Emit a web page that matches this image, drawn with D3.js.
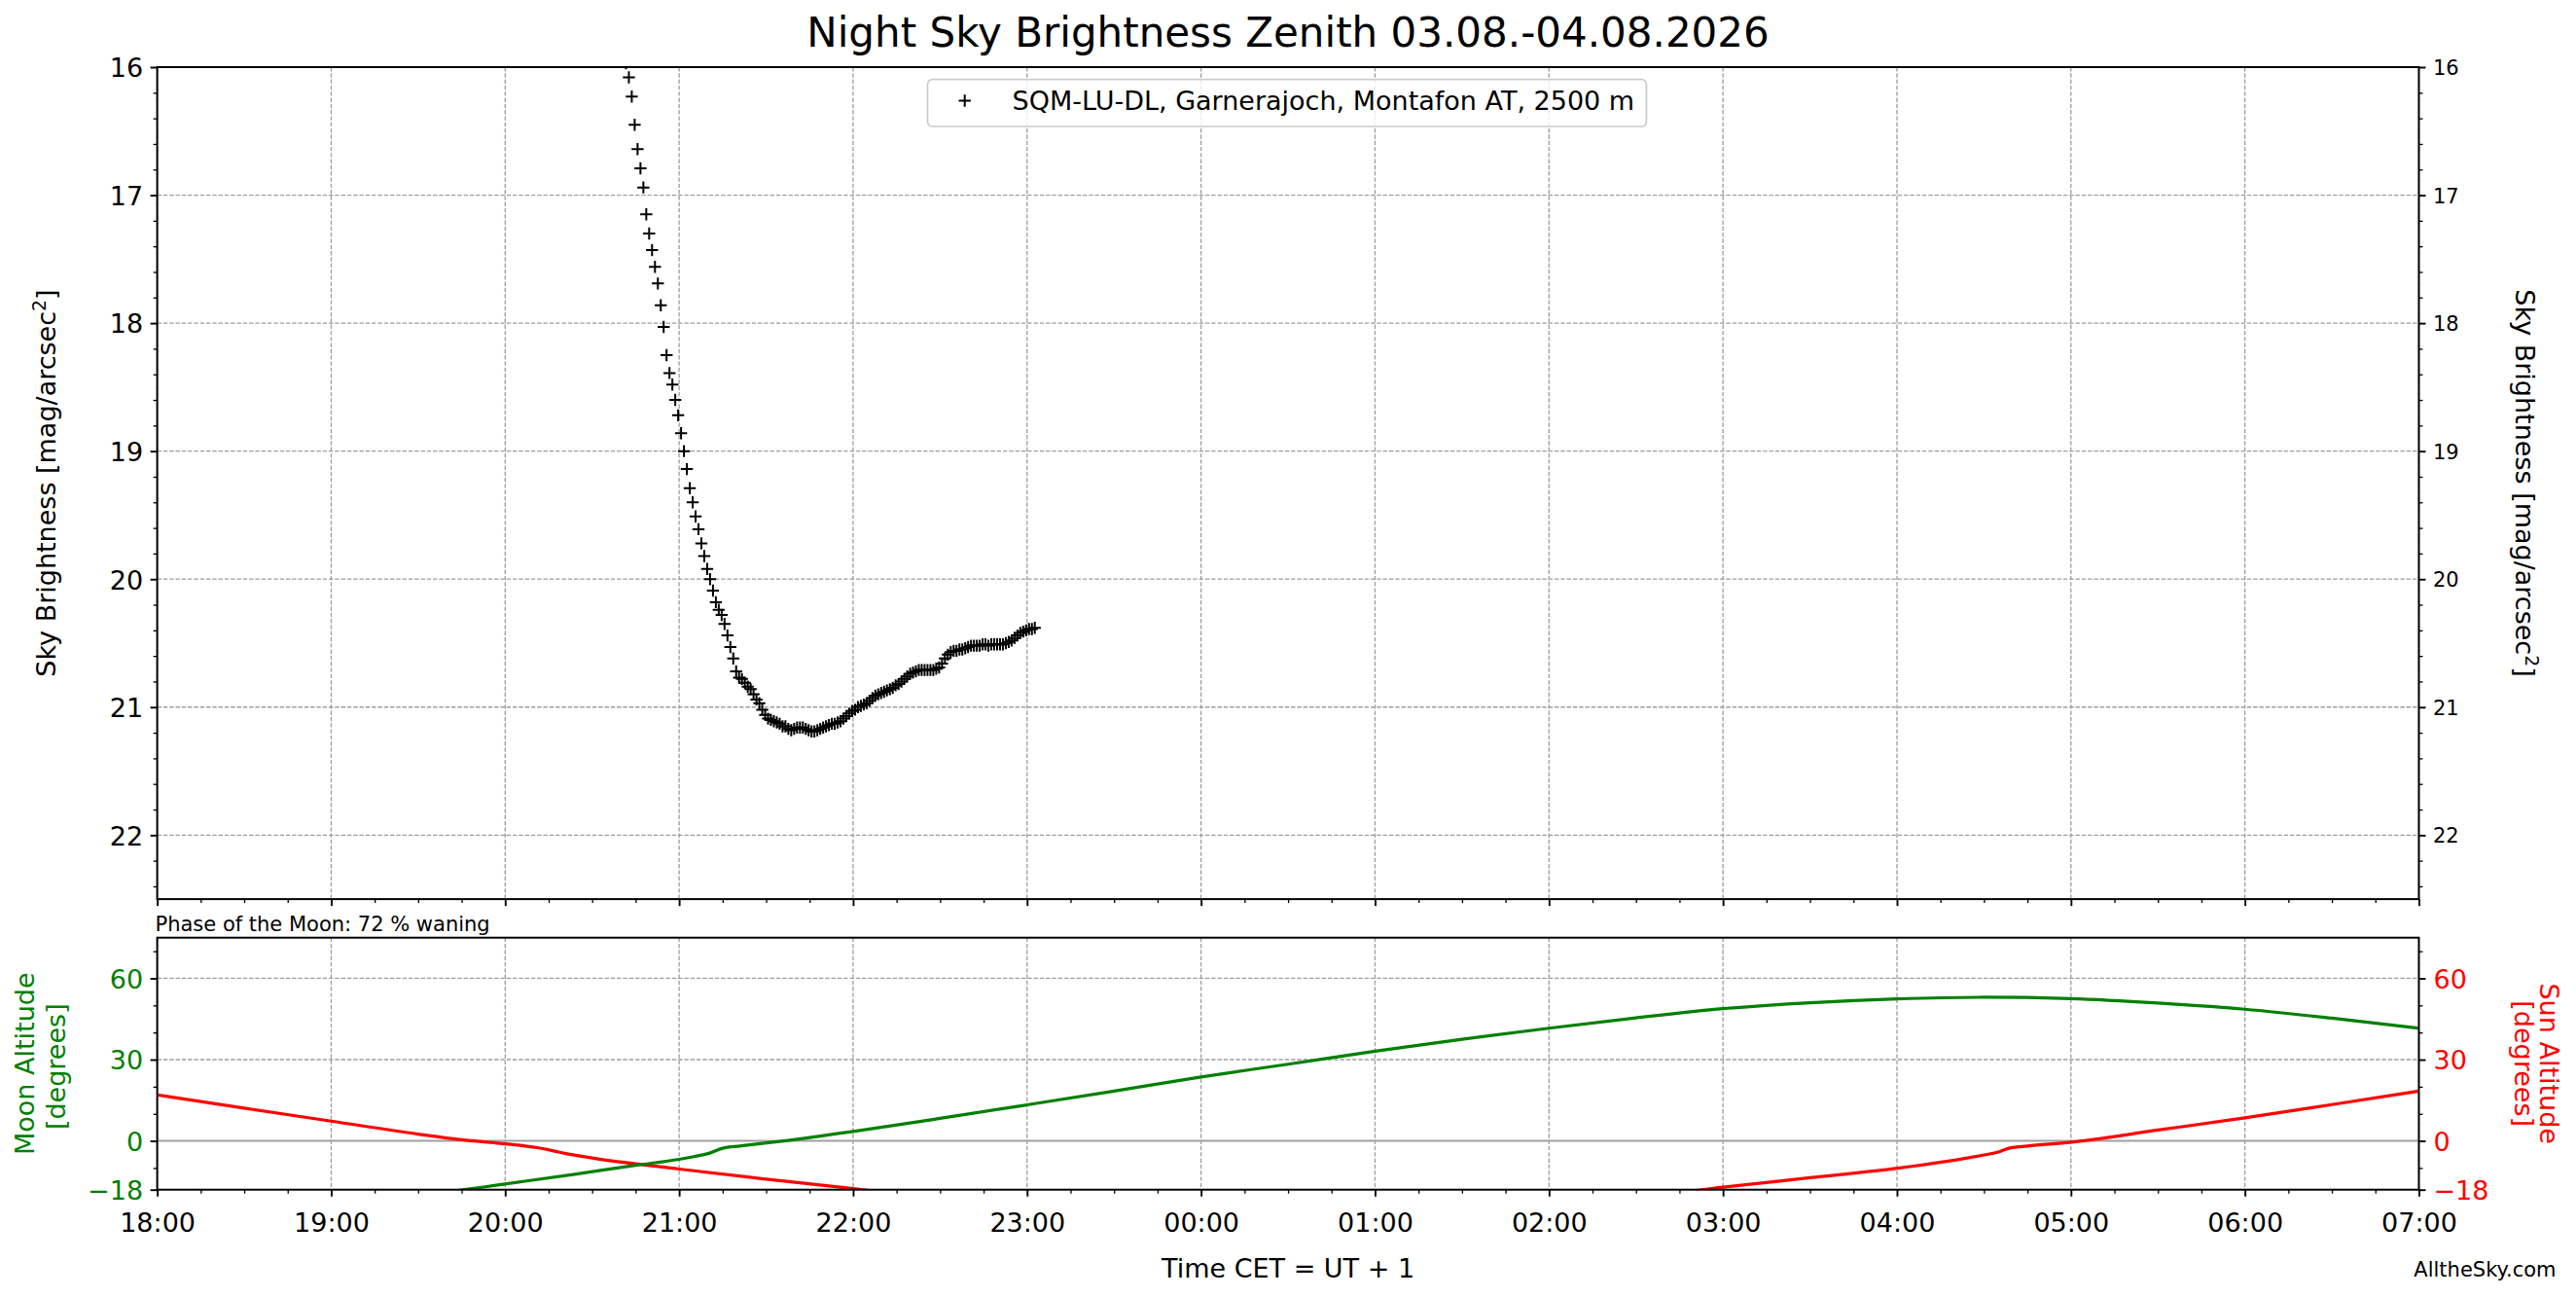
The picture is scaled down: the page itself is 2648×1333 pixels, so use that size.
<!DOCTYPE html>
<html><head><meta charset="utf-8">
<script src="https://cdn.jsdelivr.net/npm/d3@7"></script>
<style>
html,body{margin:0;padding:0;background:#fff;}
svg{display:block;}
text{font-family:"DejaVu Sans",sans-serif;}
</style>
</head><body>
<svg id="c" width="2648" height="1333"></svg>
<script>
// ---------------- DATA ----------------
const titleText = "Night Sky Brightness Zenith 03.08.-04.08.2026";
const legendLabel = "SQM-LU-DL, Garnerajoch, Montafon AT, 2500 m";
const phaseText = "Phase of the Moon: 72 % waning";
const xStart = "18:00", xEnd = "07:00";
const hourTicks = ["18:00","19:00","20:00","21:00","22:00","23:00","00:00","01:00","02:00","03:00","04:00","05:00","06:00","07:00"];
const magTicks = [16,17,18,19,20,21,22];
const magDomain = [16, 22.5];
const altTicks = [-18,0,30,60];
const altDomain = [-18, 75];

const sqmTime = [
"20:41:40","20:42:40","20:43:40","20:44:40","20:45:40","20:46:40","20:47:40","20:48:40","20:49:40","20:50:40",
"20:51:40","20:52:40","20:53:40","20:54:40","20:55:40","20:56:40","20:57:40","20:58:40","20:59:40","21:00:40",
"21:01:40","21:02:40","21:03:40","21:04:40","21:05:40","21:06:40","21:07:40","21:08:40","21:09:40","21:10:40",
"21:11:40","21:12:40","21:13:40","21:14:40","21:15:40","21:16:40","21:17:40","21:18:40","21:19:40","21:20:40",
"21:21:40","21:22:40","21:23:40","21:24:40","21:25:40","21:26:40","21:27:40","21:28:40","21:29:40","21:30:40",
"21:31:40","21:32:40","21:33:40","21:34:40","21:35:40","21:36:40","21:37:40","21:38:40","21:39:40","21:40:40",
"21:41:40","21:42:40","21:43:40","21:44:40","21:45:40","21:46:40","21:47:40","21:48:40","21:49:40","21:50:40",
"21:51:40","21:52:40","21:53:40","21:54:40","21:55:40","21:56:40","21:57:40","21:58:40","21:59:40","22:00:40",
"22:01:40","22:02:40","22:03:40","22:04:40","22:05:40","22:06:40","22:07:40","22:08:40","22:09:40","22:10:40",
"22:11:40","22:12:40","22:13:40","22:14:40","22:15:40","22:16:40","22:17:40","22:18:40","22:19:40","22:20:40",
"22:21:40","22:22:40","22:23:40","22:24:40","22:25:40","22:26:40","22:27:40","22:28:40","22:29:40","22:30:40",
"22:31:40","22:32:40","22:33:40","22:34:40","22:35:40","22:36:40","22:37:40","22:38:40","22:39:40","22:40:40",
"22:41:40","22:42:40","22:43:40","22:44:40","22:45:40","22:46:40","22:47:40","22:48:40","22:49:40","22:50:40",
"22:51:40","22:52:40","22:53:40","22:54:40","22:55:40","22:56:40","22:57:40","22:58:40","22:59:40","23:00:40",
"23:01:40","23:02:40"];
const sqmMag = [
15.97,16.08,16.23,16.45,16.64,16.79,16.94,17.15,17.30,17.43,
17.56,17.69,17.86,18.03,18.25,18.39,18.48,18.60,18.72,18.86,
19.00,19.14,19.29,19.40,19.51,19.61,19.72,19.82,19.92,20.00,
20.09,20.18,20.24,20.28,20.35,20.44,20.53,20.62,20.72,20.77,
20.78,20.81,20.84,20.86,20.90,20.94,20.97,21.02,21.06,21.09,
21.10,21.11,21.12,21.13,21.15,21.15,21.17,21.18,21.17,21.16,
21.16,21.16,21.17,21.18,21.19,21.19,21.18,21.17,21.16,21.15,
21.14,21.13,21.13,21.12,21.11,21.09,21.07,21.05,21.03,21.02,
21.00,20.99,20.98,20.97,20.95,20.93,20.91,20.90,20.89,20.88,
20.87,20.86,20.85,20.83,20.82,20.80,20.78,20.76,20.74,20.73,
20.72,20.71,20.71,20.71,20.71,20.71,20.71,20.70,20.69,20.66,
20.62,20.59,20.57,20.56,20.56,20.55,20.55,20.54,20.53,20.52,
20.52,20.52,20.52,20.51,20.51,20.52,20.51,20.51,20.51,20.51,
20.51,20.50,20.49,20.48,20.46,20.44,20.42,20.41,20.40,20.39,
20.39,20.38];

const moonTime = ["19:30","19:46","20:00","20:24","20:45","21:00","21:05","21:10","21:15","21:21","21:36","22:00","22:30","23:00","23:30","00:00","00:30","01:00","01:30","02:00","02:30","03:00","03:30","04:00","04:30","05:00","05:30","06:00","06:30","07:00"];
const moonAlt  = [-20.4,-18.0,-15.9,-12.3,-9.0,-6.8,-5.8,-4.7,-2.7,-1.9,0.0,3.5,8.3,13.3,18.4,23.6,28.3,33.1,37.5,41.6,45.4,48.8,51.0,52.4,53.0,52.5,50.9,48.6,45.3,41.6];

const sunTime = ["18:00","18:30","19:00","19:30","19:45","20:00","20:11","20:16","20:21","20:30","21:00","21:30","22:00","22:30","02:30","03:00","03:30","04:00","04:30","04:35","04:39","04:45","05:00","05:30","06:00","06:30","07:00"];
const sunAlt  = [17.0,12.1,7.3,2.5,0.4,-1.1,-2.5,-3.5,-4.7,-6.3,-10.4,-14.1,-17.6,-21.0,-20.4,-17.1,-13.6,-10.1,-5.2,-4.1,-2.6,-1.9,-0.5,4.0,8.5,13.4,18.4];

// ---------------- LAYOUT ----------------
const W = 2648, H = 1333;
const L = 161.6, R = 2486.5;
const top1 = 69, bot1 = 924.1;
const top2 = 963.7, bot2 = 1222.7;
const F = 27, FS = 21, FT = 42;
const FONT = '"DejaVu Sans", sans-serif';
const GREEN = "#008000", RED = "#ff0000";
const GRID = "#9e9e9e";
const PLUS = "M-6.2,0H6.2M0,-6.2V6.2";

function toDate(s){
  const p = s.split(":").map(Number);
  const day = p[0] < 12 ? 4 : 3;
  return new Date(Date.UTC(2026, 7, day, p[0], p[1], p[2] || 0));
}

const svg = d3.select("#c");
const x = d3.scaleUtc().domain([toDate(xStart), toDate(xEnd)]).range([L, R]);
const yMag = d3.scaleLinear().domain(magDomain).range([top1, bot1]);
const yAlt = d3.scaleLinear().domain(altDomain).range([bot2, top2]);

const hourDates = hourTicks.map(toDate);
const minorX = d3.utcMinute.every(15).range(toDate(xStart), new Date(+toDate(xEnd)+1))
  .filter(d => d.getUTCMinutes() !== 0);
const minorMag = d3.range(16, 22.5001, 0.2).filter(v => Math.abs(v - Math.round(v)) > 1e-6);
const minorAlt = d3.range(-10, 75, 10).filter(v => !altTicks.includes(v));

const defs = svg.append("defs");
defs.append("clipPath").attr("id","clip1").append("rect")
  .attr("x",L).attr("y",top1).attr("width",R-L).attr("height",bot1-top1);
defs.append("clipPath").attr("id","clip2").append("rect")
  .attr("x",L).attr("y",top2).attr("width",R-L).attr("height",bot2-top2);

// ---------------- GRIDS ----------------
const g1 = svg.append("g");
g1.selectAll("line.vg").data(hourDates).join("line")
  .attr("x1",d=>x(d)).attr("x2",d=>x(d)).attr("y1",top1).attr("y2",bot1)
  .attr("stroke",GRID).attr("stroke-width",1.3).attr("stroke-dasharray","4.4,1.9");
g1.selectAll("line.hg").data(magTicks).join("line")
  .attr("x1",L).attr("x2",R).attr("y1",d=>yMag(d)).attr("y2",d=>yMag(d))
  .attr("stroke",GRID).attr("stroke-width",1.3).attr("stroke-dasharray","4.4,1.9");

const g2 = svg.append("g");
g2.selectAll("line.vg").data(hourDates).join("line")
  .attr("x1",d=>x(d)).attr("x2",d=>x(d)).attr("y1",top2).attr("y2",bot2)
  .attr("stroke",GRID).attr("stroke-width",1.3).attr("stroke-dasharray","4.4,1.9");
g2.selectAll("line.hg").data(altTicks.filter(v=>v>0)).join("line")
  .attr("x1",L).attr("x2",R).attr("y1",d=>yAlt(d)).attr("y2",d=>yAlt(d))
  .attr("stroke",GRID).attr("stroke-width",1.3).attr("stroke-dasharray","4.4,1.9");
g2.append("line").attr("x1",L).attr("x2",R).attr("y1",yAlt(0)).attr("y2",yAlt(0))
  .attr("stroke","#a0a0a0").attr("stroke-width",2);

// ---------------- DATA MARKS ----------------
const sqm = sqmTime.map((t,i)=>({t:toDate(t), v:sqmMag[i]}));
svg.append("g").attr("clip-path","url(#clip1)")
  .selectAll("path.pt").data(sqm).join("path")
  .attr("transform",d=>`translate(${x(d.t)},${yMag(d.v)})`)
  .attr("d",PLUS)
  .attr("stroke","#000").attr("stroke-width",2).attr("fill","none");

const lineGen = d3.line().x(d=>x(d.t)).y(d=>yAlt(d.v)).curve(d3.curveMonotoneX);
const moon = moonTime.map((t,i)=>({t:toDate(t), v:moonAlt[i]}));
const sun = sunTime.map((t,i)=>({t:toDate(t), v:sunAlt[i]}));
const gl = svg.append("g").attr("clip-path","url(#clip2)");
gl.append("path").datum(sun).attr("d",lineGen).attr("fill","none")
  .attr("stroke",RED).attr("stroke-width",3.2).attr("stroke-linejoin","round");
gl.append("path").datum(moon).attr("d",lineGen).attr("fill","none")
  .attr("stroke",GREEN).attr("stroke-width",3.2).attr("stroke-linejoin","round");

// ---------------- AXES ----------------
function styleAxis(g, color, size){
  g.select(".domain").remove();
  g.selectAll(".tick line").attr("stroke","#000").attr("stroke-width",1.9);
  g.selectAll(".tick text").attr("fill",color).attr("font-size",size).attr("font-family",FONT).attr("dy",null);
}
function minorAxis(g){
  g.select(".domain").remove();
  g.selectAll(".tick line").attr("stroke","#000").attr("stroke-width",1.3);
  g.selectAll(".tick text").remove();
}
const minusFmt = v => (v < 0 ? "\u2212" + Math.abs(v) : String(v));

// top panel bottom axis (no labels)
svg.append("g").attr("transform",`translate(0,${bot1})`)
  .call(d3.axisBottom(x).tickValues(hourDates).tickSize(7).tickSizeOuter(0).tickFormat(""))
  .call(g=>{styleAxis(g,"#000",F); g.selectAll(".tick text").remove();});
svg.append("g").attr("transform",`translate(0,${bot1})`)
  .call(d3.axisBottom(x).tickValues(minorX).tickSize(4).tickSizeOuter(0).tickFormat(""))
  .call(minorAxis);

// bottom panel bottom axis
svg.append("g").attr("transform",`translate(0,${bot2})`)
  .call(d3.axisBottom(x).tickValues(hourDates).tickSize(7).tickSizeOuter(0).tickFormat(d3.utcFormat("%H:%M")))
  .call(g=>{styleAxis(g,"#000",F); g.selectAll(".tick text").attr("y",43.8);});
svg.append("g").attr("transform",`translate(0,${bot2})`)
  .call(d3.axisBottom(x).tickValues(minorX).tickSize(4).tickSizeOuter(0).tickFormat(""))
  .call(minorAxis);

// top left
svg.append("g").attr("transform",`translate(${L},0)`)
  .call(d3.axisLeft(yMag).tickValues(magTicks).tickSize(7).tickSizeOuter(0).tickFormat(d3.format("d")))
  .call(g=>{styleAxis(g,"#000",F); g.selectAll(".tick text").attr("x",-14.5).attr("y",9.8);});
svg.append("g").attr("transform",`translate(${L},0)`)
  .call(d3.axisLeft(yMag).tickValues(minorMag).tickSize(4).tickSizeOuter(0).tickFormat(""))
  .call(minorAxis);
// top right
svg.append("g").attr("transform",`translate(${R},0)`)
  .call(d3.axisRight(yMag).tickValues(magTicks).tickSize(7).tickSizeOuter(0).tickFormat(d3.format("d")))
  .call(g=>{styleAxis(g,"#000",FS); g.selectAll(".tick text").attr("x",14.5).attr("y",7.6);});
svg.append("g").attr("transform",`translate(${R},0)`)
  .call(d3.axisRight(yMag).tickValues(minorMag).tickSize(4).tickSizeOuter(0).tickFormat(""))
  .call(minorAxis);

// bottom left (moon)
svg.append("g").attr("transform",`translate(${L},0)`)
  .call(d3.axisLeft(yAlt).tickValues(altTicks).tickSize(7).tickSizeOuter(0).tickFormat(minusFmt))
  .call(g=>{styleAxis(g,GREEN,F); g.selectAll(".tick text").attr("x",-14.5).attr("y",9.8);});
svg.append("g").attr("transform",`translate(${L},0)`)
  .call(d3.axisLeft(yAlt).tickValues(minorAlt).tickSize(4).tickSizeOuter(0).tickFormat(""))
  .call(minorAxis);
// bottom right (sun)
svg.append("g").attr("transform",`translate(${R},0)`)
  .call(d3.axisRight(yAlt).tickValues(altTicks).tickSize(7).tickSizeOuter(0).tickFormat(minusFmt))
  .call(g=>{styleAxis(g,RED,F); g.selectAll(".tick text").attr("x",15).attr("y",9.8);});
svg.append("g").attr("transform",`translate(${R},0)`)
  .call(d3.axisRight(yAlt).tickValues(minorAlt).tickSize(4).tickSizeOuter(0).tickFormat(""))
  .call(minorAxis);

// spines
svg.append("rect").attr("x",L).attr("y",top1).attr("width",R-L).attr("height",bot1-top1)
  .attr("fill","none").attr("stroke","#000").attr("stroke-width",2);
svg.append("rect").attr("x",L).attr("y",top2).attr("width",R-L).attr("height",bot2-top2)
  .attr("fill","none").attr("stroke","#000").attr("stroke-width",2);

// ---------------- TEXTS ----------------
svg.append("text").attr("x",(L+R)/2).attr("y",48).attr("text-anchor","middle")
  .attr("font-size",FT).text(titleText);

function brightLabel(xPos, rot){
  const t = svg.append("text").attr("transform",`translate(${xPos},${(top1+bot1)/2}) rotate(${rot})`)
    .attr("text-anchor","middle").attr("font-size",F);
  t.append("tspan").text("Sky Brightness [mag/arcsec");
  t.append("tspan").attr("font-size",F*0.7).attr("dy",-10).text("2");
  t.append("tspan").attr("dy",10).text("]");
}
brightLabel(57, -90);
brightLabel(2586, 90);

const midB = (top2+bot2)/2;
const ml = svg.append("g").attr("fill",GREEN).attr("font-size",F);
ml.append("text").attr("transform",`translate(35,${midB}) rotate(-90)`).attr("text-anchor","middle").text("Moon Altitude");
ml.append("text").attr("transform",`translate(67.2,${midB+3}) rotate(-90)`).attr("text-anchor","middle").text("[degrees]");
const sl = svg.append("g").attr("fill",RED).attr("font-size",F);
sl.append("text").attr("transform",`translate(2611,${midB}) rotate(90)`).attr("text-anchor","middle").text("Sun Altitude");
sl.append("text").attr("transform",`translate(2584.5,${midB}) rotate(90)`).attr("text-anchor","middle").text("[degrees]");

svg.append("text").attr("x",159.5).attr("y",957).attr("font-size",FS).text(phaseText);
svg.append("text").attr("x",(L+R)/2).attr("y",1313).attr("text-anchor","middle").attr("font-size",F).text("Time CET = UT + 1");
svg.append("text").attr("x",2627.5).attr("y",1312).attr("text-anchor","end").attr("font-size",FS).text("AlltheSky.com");

// ---------------- LEGEND ----------------
const lg = svg.append("g");
lg.append("rect").attr("x",953.5).attr("y",81.7).attr("width",739).attr("height",48.3)
  .attr("rx",5).attr("fill","#fff").attr("fill-opacity",0.8)
  .attr("stroke","#cccccc").attr("stroke-width",1.7);
lg.append("path").attr("transform","translate(991.7,103.5)").attr("d",PLUS)
  .attr("stroke","#000").attr("stroke-width",2);
lg.append("text").attr("x",1040.5).attr("y",113).attr("font-size",F).text(legendLabel);
</script>
</body></html>
